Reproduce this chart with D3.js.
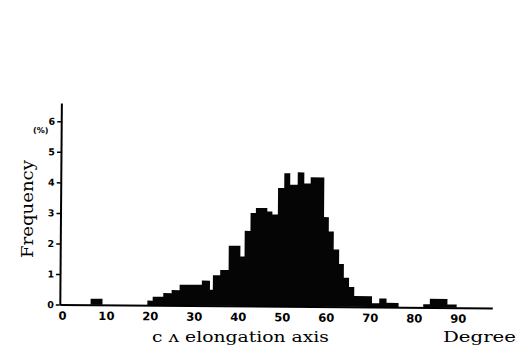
<!DOCTYPE html>
<html>
<head>
<meta charset="utf-8">
<script src="https://cdn.jsdelivr.net/npm/d3@7"></script>
<style>
  body { margin: 0; background: #fff; }
  svg { display: block; }
</style>
</head>
<body>
<div id="hist"></div>
<script>
var width = 520;
var height = 356;

// bin edges (degree), freq (%) for each gap between edges
var binEdges = [6.5, 9.2, 19.4, 20.6, 23.0, 24.9, 26.7, 31.75, 33.6, 34.25, 35.9, 37.8,
  40.45, 41.4, 42.7, 43.9, 46.5, 47.65, 48.9, 50.3, 51.65, 53.35, 54.85, 56.3, 59.4,
  60.5, 61.65, 62.9, 64.0, 65.2, 66.4, 70.45, 72.1, 73.75, 76.5, 82.1, 83.6, 87.6, 89.7];
var freq = [0.2, 0, 0.15, 0.28, 0.4, 0.5, 0.68, 0.82, 0.52, 1.0, 1.17,
  1.97, 1.62, 2.46, 3.05, 3.21, 3.1, 3.0, 3.87, 4.36, 3.98, 4.39, 4.03, 4.23,
  2.93, 2.46, 1.87, 1.4, 0.95, 0.65, 0.35, 0.12, 0.28, 0.14, 0, 0.1, 0.28, 0.1];

var xTicks = [0, 10, 20, 30, 40, 50, 60, 70, 80, 90];
var yTicks = [0, 1, 2, 3, 4, 5, 6];

var svg = d3.select("#hist")
  .append("svg")
  .attr("width", width)
  .attr("height", height);

var xScale = d3.scaleLinear().domain([-0.5, 97.8]).range([59.8, 492.3]);
var yScale = d3.scaleLinear().domain([0, 6.6]).range([304.5, 103]);

// the scan is tilted a little
var chart = svg.append("g")
  .attr("transform", "rotate(0.45, 60, 304)");

// one step outline for the whole histogram, so no seams between bins
var steps = binEdges.map(function(e, i) {
  return { x: e, f: i < freq.length ? freq[i] : 0 };
});

var area = d3.area()
  .x(function(d) { return xScale(d.x); })
  .y0(yScale(0))
  .y1(function(d) { return yScale(d.f); })
  .curve(d3.curveStepAfter);

chart.append("path")
  .datum(steps)
  .attr("d", area)
  .attr("fill", "#050505");

var axisx = d3.axisBottom(xScale)
  .tickValues(xTicks)
  .tickSize(0)
  .tickPadding(7);

var axisy = d3.axisLeft(yScale)
  .tickValues(yTicks)
  .tickFormat(d3.format("d"))
  .tickSizeInner(4)
  .tickSizeOuter(0)
  .tickPadding(2);

var gx = chart.append("g")
  .attr("transform", "translate(0," + yScale(0) + ")")
  .call(axisx);

var gy = chart.append("g")
  .attr("transform", "translate(" + xScale(-0.5) + ",0)")
  .call(axisy);

[gx, gy].forEach(function(g) {
  g.select(".domain").attr("stroke", "#000").attr("stroke-width", 2);
  g.selectAll(".tick line").attr("stroke", "#000").attr("stroke-width", 1.5);
  g.selectAll("text")
    .attr("fill", "#000")
    .attr("font-family", "DejaVu Sans")
    .attr("font-weight", "bold");
});
gx.selectAll("text").attr("font-size", "11.5px");
gy.selectAll("text").attr("font-size", "9.5px");

// the (%) unit beside the top tick
chart.append("text")
  .attr("x", 47)
  .attr("y", yScale(6) + 12)
  .attr("text-anchor", "end")
  .attr("font-family", "DejaVu Sans")
  .attr("font-weight", "bold")
  .attr("font-size", "8px")
  .text("(%)");

svg.append("text")
  .attr("transform", "translate(33,209) rotate(-90)")
  .attr("text-anchor", "middle")
  .attr("font-family", "DejaVu Serif")
  .attr("font-size", "17px")
  .attr("textLength", 98)
  .attr("lengthAdjust", "spacingAndGlyphs")
  .text("Frequency");

svg.append("text")
  .attr("x", 152)
  .attr("y", 342)
  .attr("font-family", "DejaVu Serif")
  .attr("font-size", "14px")
  .attr("textLength", 177)
  .attr("lengthAdjust", "spacingAndGlyphs")
  .text("c \u028C elongation axis");

svg.append("text")
  .attr("x", 443)
  .attr("y", 342)
  .attr("font-family", "DejaVu Serif")
  .attr("font-size", "14px")
  .attr("textLength", 73)
  .attr("lengthAdjust", "spacingAndGlyphs")
  .text("Degree");
</script>
</body>
</html>
